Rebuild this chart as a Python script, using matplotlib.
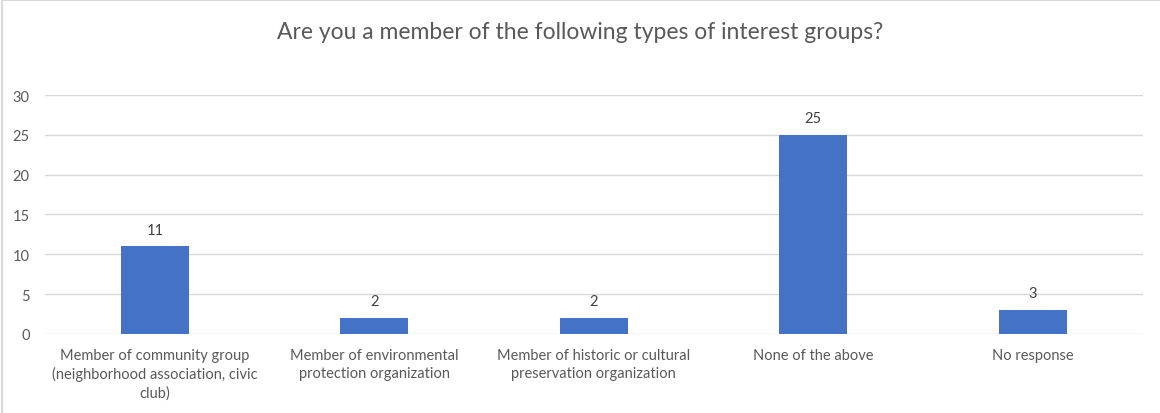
import matplotlib.pyplot as plt
from matplotlib.lines import Line2D

# Survey responses
categories = [
    'Member of community group\n(neighborhood association, civic\nclub)',
    'Member of environmental\nprotection organization',
    'Member of historic or cultural\npreservation organization',
    'None of the above',
    'No response',
]
counts = [11, 2, 2, 25, 3]
yticks = [0, 5, 10, 15, 20, 25, 30]

plt.rcParams['font.family'] = ['Lato', 'DejaVu Sans']
text_color = '#595959'
bar_color = '#4472C4'
grid_color = '#D9D9D9'

fig = plt.figure(figsize=(11.6, 4.14), dpi=100)
ax = fig.add_axes([0.0388, 0.191, 0.9462, 0.577])

x = range(len(categories))
bars = ax.bar(x, counts, width=0.31, color=bar_color, zorder=3)
for rect, v in zip(bars, counts):
    ax.annotate(str(v), (rect.get_x() + rect.get_width() / 2, v),
                xytext=(0, 7), textcoords='offset points',
                ha='center', va='bottom', fontsize=10.5, color='#404040')

ax.set_xlim(-0.5, len(categories) - 0.5)
ax.set_ylim(0, 30)
ax.set_yticks(yticks)
ax.set_xticks(list(x))
ax.set_xticklabels(categories, fontsize=10.5, color=text_color, linespacing=1.35)
ax.tick_params(axis='y', labelsize=10.5, labelcolor=text_color, length=0, pad=11)
ax.tick_params(axis='x', length=0, pad=10)
ax.grid(axis='y', color=grid_color, linewidth=1, zorder=0)
for s in ax.spines.values():
    s.set_visible(False)

fig.text(0.5, 0.922, 'Are you a member of the following types of interest groups?',
         ha='center', va='center', fontsize=16.5, color=text_color)

# light frame along the left and top edges
fig.add_artist(Line2D([0.002, 0.002], [0, 0.997], color='#D9D9D9', lw=1.5))
fig.add_artist(Line2D([0.002, 1.0], [0.997, 0.997], color='#D9D9D9', lw=1.5))

fig.savefig('out.png', dpi=100, facecolor='white')
